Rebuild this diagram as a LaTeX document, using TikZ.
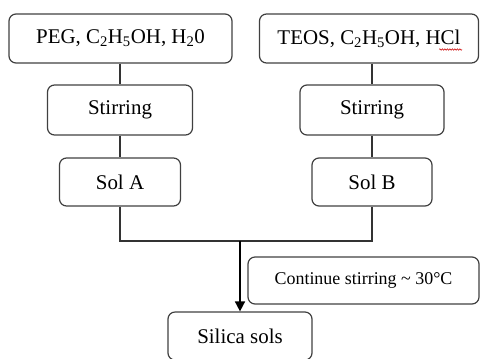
\documentclass[tikz,border=0pt]{standalone}
\usepackage{fontspec}
\setmainfont{Liberation Serif}
\usetikzlibrary{arrows.meta, calc, decorations.pathmorphing}

\begin{document}
\begin{tikzpicture}[x=1bp, y=-1bp, line width=1.2bp,
    every node/.style={font=\fontsize{21}{24}\selectfont},
    stepbox/.style={draw=black!75, rounded corners=7bp, inner sep=0pt, align=center},
    link/.style={draw=black!80},
    spellwave/.style={draw=red!80!black, line width=0.5bp,
        decorate, decoration={snake, amplitude=0.8bp, segment length=2.5bp}}]
    \useasboundingbox (0,0) rectangle (480,358);

    % starting mixtures
    \node[stepbox, minimum width=223bp, minimum height=49bp] (peg) at (120.5,38.5)
        {PEG, C\textsubscript{2}H\textsubscript{5}OH, H\textsubscript{2}0};
    \node[stepbox, minimum width=219bp, minimum height=49bp] (teos) at (369,38.5)
        {TEOS, C\textsubscript{2}H\textsubscript{5}OH, HCl};
    \path[spellwave] ($(teos.east)+(-40,11)$) -- ($(teos.east)+(-17,11)$);

    % stirring
    \node[stepbox, minimum width=145bp, minimum height=50bp] (stirA) at (120,110) {Stirring};
    \node[stepbox, minimum width=144bp, minimum height=50bp] (stirB) at (372,110) {Stirring};

    % sols
    \node[stepbox, minimum width=121bp, minimum height=48bp] (solA) at (120,182) {Sol A};
    \node[stepbox, minimum width=120bp, minimum height=48bp] (solB) at (372,182) {Sol B};

    % mixing
    \coordinate (join) at (240,241);
    \node[stepbox, minimum width=231bp, minimum height=47bp, font=\fontsize{18}{21}\selectfont] (cont) at (363.5,280.5)
        {Continue stirring \char"007E{} 30°C};
    \node[stepbox, minimum width=144bp, minimum height=48bp] (silica) at (240,336) {Silica sols};

    % connectors
    \draw[link] (stirA |- peg.south) -- (stirA);
    \draw[link] (stirB |- teos.south) -- (stirB);
    \draw[link] (stirA) -- (solA);
    \draw[link] (stirB) -- (solB);
    \draw[link] (solA) |- (join) -| (solB);
    \draw[line width=1.6bp, -{Triangle[width=10bp, length=10bp]}] (join) -- (silica);

  \end{tikzpicture}
\end{document}
